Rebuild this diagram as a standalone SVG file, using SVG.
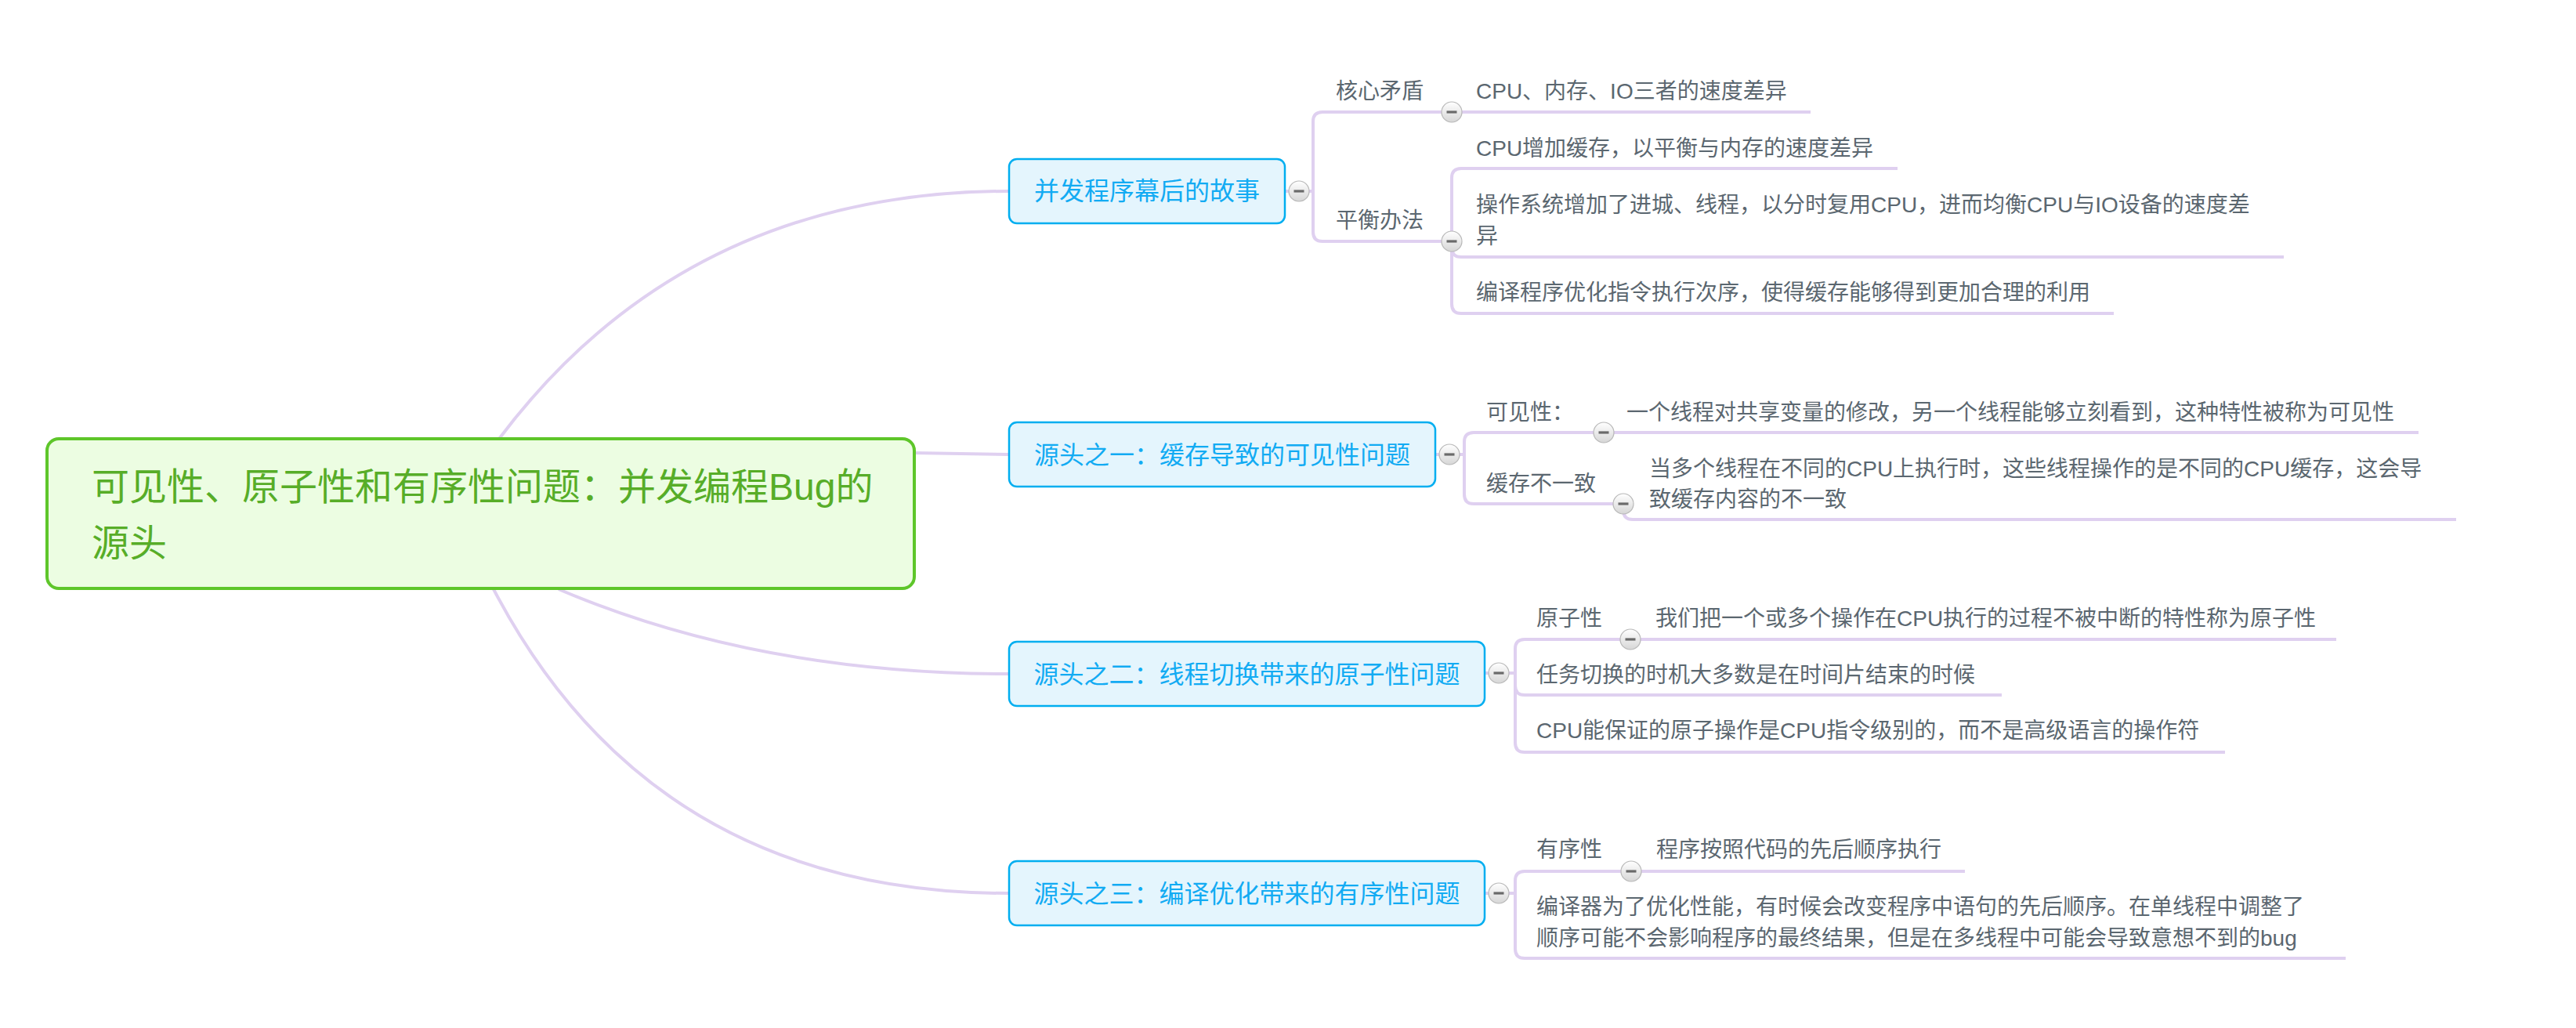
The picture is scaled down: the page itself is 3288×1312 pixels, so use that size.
<svg xmlns="http://www.w3.org/2000/svg" xmlns:xlink="http://www.w3.org/1999/xlink" width="3288" height="1312" viewBox="0 0 3288 1312">
<style>
.bg{fill:#ffffff}
.conn{fill:none;stroke:#dfd0f0;stroke-width:4;stroke-linecap:butt}
.root{fill:#ecfde2;stroke:#5ec62a;stroke-width:4}
.rootText{font-family:"Liberation Sans","Noto Sans CJK SC",sans-serif;font-size:48px;fill:#57ad28}
.main{fill:#e4f5fd;stroke:#00aef0;stroke-width:2.5}
.mainText{font-family:"Liberation Sans","Noto Sans CJK SC",sans-serif;font-size:32px;fill:#12abf3;text-anchor:middle}
.sub{font-family:"Liberation Sans","Noto Sans CJK SC",sans-serif;font-size:28px;fill:#5b6770}
</style>
<defs>
<linearGradient id="btnGrad" x1="0" y1="0" x2="0" y2="1">
<stop offset="0" stop-color="#ffffff"/>
<stop offset="1" stop-color="#d6d6d6"/>
</linearGradient>
<g id="btn">
<circle cx="0" cy="0" r="13" fill="url(#btnGrad)" stroke="#b8b8b8" stroke-width="1.2"/>
<rect x="-6.5" y="-1.6" width="13" height="3.2" fill="#6a6a6a"/>
</g>
</defs>
<rect class="bg" x="0" y="0" width="3288" height="1312"/>

<g id="connectors">
<path class="conn" d="M 637 560 Q 875 244 1288 244"/>
<path class="conn" d="M 1166 578 Q 1230 579 1288 580"/>
<path class="conn" d="M 713 752 Q 967 860 1288 860"/>
<path class="conn" d="M 630 752 Q 833 1140 1288 1140"/>

<path class="conn" d="M 1640 244 H 1676"/>
<path class="conn" d="M 1676 244 V 155 Q 1676 143 1688 143 H 2311"/>
<path class="conn" d="M 1676 244 V 296 Q 1676 308 1688 308 H 1853"/>
<path class="conn" d="M 1853 308 V 227 Q 1853 215 1865 215 H 2422"/>
<path class="conn" d="M 1853 308 V 316 Q 1853 328 1865 328 H 2915"/>
<path class="conn" d="M 1853 308 V 388 Q 1853 400 1865 400 H 2698"/>

<path class="conn" d="M 1832 580 H 1869"/>
<path class="conn" d="M 1869 580 V 564 Q 1869 552 1881 552 H 3087"/>
<path class="conn" d="M 1869 580 V 631 Q 1869 643 1881 643 H 2072"/>
<path class="conn" d="M 2072 643 V 651 Q 2072 663 2084 663 H 3135"/>

<path class="conn" d="M 1895 859 H 1934"/>
<path class="conn" d="M 1934 859 V 828 Q 1934 816 1946 816 H 2982"/>
<path class="conn" d="M 1934 859 V 875 Q 1934 887 1946 887 H 2555"/>
<path class="conn" d="M 1934 859 V 948 Q 1934 960 1946 960 H 2840"/>

<path class="conn" d="M 1895 1140 H 1934"/>
<path class="conn" d="M 1934 1140 V 1124 Q 1934 1112 1946 1112 H 2508"/>
<path class="conn" d="M 1934 1140 V 1211 Q 1934 1223 1946 1223 H 2994"/>
</g>

<g id="root">
<rect class="root" x="60" y="560" width="1107" height="191" rx="15" ry="15"/>
<text class="rootText" x="117" y="638">可见性、原子性和有序性问题：并发编程Bug的</text>
<text class="rootText" x="117" y="710">源头</text>
</g>

<g id="topic1">
<rect class="main" x="1288" y="203" width="352" height="82" rx="10" ry="10"/>
<text class="mainText" x="1464" y="255">并发程序幕后的故事</text>
</g>
<g id="topic2">
<rect class="main" x="1288" y="539" width="544" height="82" rx="10" ry="10"/>
<text class="mainText" x="1560" y="592">源头之一：缓存导致的可见性问题</text>
</g>
<g id="topic3">
<rect class="main" x="1288" y="819" width="607" height="82" rx="10" ry="10"/>
<text class="mainText" x="1591.5" y="872">源头之二：线程切换带来的原子性问题</text>
</g>
<g id="topic4">
<rect class="main" x="1288" y="1099" width="607" height="82" rx="10" ry="10"/>
<text class="mainText" x="1591.5" y="1152">源头之三：编译优化带来的有序性问题</text>
</g>

<g id="t1a"><text class="sub" x="1705" y="126">核心矛盾</text></g>
<g id="t1a1"><text class="sub" x="1884" y="126">CPU、内存、IO三者的速度差异</text></g>
<g id="t1b"><text class="sub" x="1705" y="291">平衡办法</text></g>
<g id="t1b1"><text class="sub" x="1884" y="199">CPU增加缓存，以平衡与内存的速度差异</text></g>
<g id="t1b2"><text class="sub" x="1884" y="271">操作系统增加了进城、线程，以分时复用CPU，进而均衡CPU与IO设备的速度差</text><text class="sub" x="1884" y="311">异</text></g>
<g id="t1b3"><text class="sub" x="1884" y="383">编译程序优化指令执行次序，使得缓存能够得到更加合理的利用</text></g>

<g id="t2a"><text class="sub" x="1897" y="536">可见性：</text></g>
<g id="t2a1"><text class="sub" x="2076" y="536">一个线程对共享变量的修改，另一个线程能够立刻看到，这种特性被称为可见性</text></g>
<g id="t2b"><text class="sub" x="1897" y="627">缓存不一致</text></g>
<g id="t2b1"><text class="sub" x="2105" y="608">当多个线程在不同的CPU上执行时，这些线程操作的是不同的CPU缓存，这会导</text><text class="sub" x="2105" y="647">致缓存内容的不一致</text></g>

<g id="t3a"><text class="sub" x="1961" y="799">原子性</text></g>
<g id="t3a1"><text class="sub" x="2113" y="799">我们把一个或多个操作在CPU执行的过程不被中断的特性称为原子性</text></g>
<g id="t3b"><text class="sub" x="1961" y="871">任务切换的时机大多数是在时间片结束的时候</text></g>
<g id="t3c"><text class="sub" x="1961" y="942">CPU能保证的原子操作是CPU指令级别的，而不是高级语言的操作符</text></g>

<g id="t4a"><text class="sub" x="1961" y="1094">有序性</text></g>
<g id="t4a1"><text class="sub" x="2114" y="1094">程序按照代码的先后顺序执行</text></g>
<g id="t4b"><text class="sub" x="1961" y="1167">编译器为了优化性能，有时候会改变程序中语句的先后顺序。在单线程中调整了</text><text class="sub" x="1961" y="1207">顺序可能不会影响程序的最终结果，但是在多线程中可能会导致意想不到的bug</text></g>

<g id="buttons">
<use xlink:href="#btn" x="1658" y="244"/>
<use xlink:href="#btn" x="1853" y="143"/>
<use xlink:href="#btn" x="1853" y="308"/>
<use xlink:href="#btn" x="1850" y="580"/>
<use xlink:href="#btn" x="2047" y="552"/>
<use xlink:href="#btn" x="2072" y="643"/>
<use xlink:href="#btn" x="1913" y="859"/>
<use xlink:href="#btn" x="2081" y="816"/>
<use xlink:href="#btn" x="1913" y="1140"/>
<use xlink:href="#btn" x="2082" y="1112"/>
</g>
</svg>
